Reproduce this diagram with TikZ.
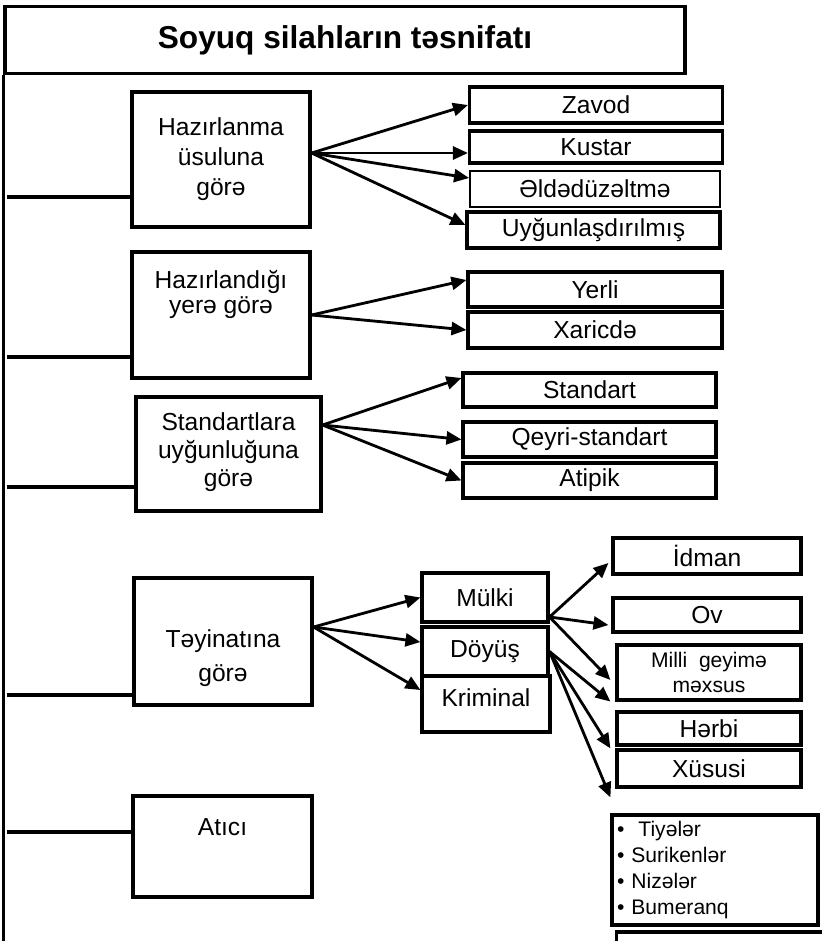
\documentclass[tikz,border=0pt]{standalone}
\usepackage{fontspec}
\setmainfont{Liberation Sans}
\usepackage{tikz}
\usetikzlibrary{arrows.meta, positioning, calc}

\begin{document}
\begin{tikzpicture}[
    x=0.02cm, y=-0.02cm,
    cat/.style={rectangle, draw, line width=1.8pt, inner sep=0pt, align=center, minimum width=3.56cm, font=\fontsize{14}{17}\selectfont},
    leaf/.style={rectangle, draw, line width=1.8pt, inner sep=0pt, align=center, minimum width=5.06cm, minimum height=0.7cm, font=\fontsize{14}{17}\selectfont},
    link/.style={line width=1.8pt},
    arr/.style={line width=1.6pt, -{Triangle[length=0.3cm, width=0.26cm]}}
]
\useasboundingbox (0,0) rectangle (822,941);
\clip (0,0) rectangle (822,941);

% Title
\node[rectangle, draw, line width=1.8pt, minimum width=13.6cm, minimum height=1.34cm, font=\fontsize{18}{22}\selectfont\bfseries] (title) at (345,40) {Soyuq silahların təsnifatı};
\coordinate (spine) at (7,960);

% Categories
\node[cat, minimum height=2.7cm] (hazir) at (221,159.5) {Hazırlanma\\üsuluna\\görə};
\node[cat, minimum height=2.52cm] (hazyer) at (221,315) {Hazırlandığı\\[-3pt]yerə görə\\[9pt]\mbox{}};
\node[cat, minimum width=3.7cm, minimum height=2.28cm] (stand) at (228.5,454) {Standartlara\\[-1pt]uyğunluğuna\\[-1pt]görə\\[-12pt]\mbox{}};
\node[cat, minimum height=2.54cm] (teyin) at (223,641.5) {\strut\\Təyinatına\\[2pt]görə};
\node[cat, minimum width=3.58cm, minimum height=2.02cm] (atici) at (222.5,846.5) {Atıcı\\[5pt]\mbox{}};

% By manufacturing method
\node[leaf, minimum height=0.72cm] (zavod) at (596,105) {Zavod};
\node[leaf, minimum height=0.64cm] (kustar) at (596,147) {Kustar};
\node[leaf, line width=1.1pt, minimum width=5cm, minimum height=0.72cm] (elde) at (595,189) {Əldədüzəltmə};
\node[leaf, minimum height=0.72cm] (uyg) at (593.5,230) {Uyğunlaşdırılmış};

% By place
\node[leaf, minimum width=5.08cm] (yerli) at (595,289.5) {Yerli};
\node[leaf, minimum width=5.08cm, minimum height=0.72cm] (xaric) at (595,330) {Xaricdə};

% By standards
\node[leaf, minimum height=0.68cm] (standart) at (589.5,390) {Standart};
\node[leaf] (qeyri) at (589.5,439.5) {Qeyri-standart};
\node[leaf] (atipik) at (589.5,480.5) {Atipik};

% By purpose
\node[cat, minimum width=2.52cm, minimum height=0.98cm] (mulki) at (485,597.5) {Mülki};
\node[cat, minimum width=2.52cm, minimum height=0.98cm] (doyus) at (485,651.5) {Döyüş};
\node[cat, minimum width=2.56cm, minimum height=1.12cm, text depth=0.25cm] (krim) at (486,704) {Kriminal};

\node[leaf, minimum width=3.76cm, minimum height=0.72cm] (idman) at (707,556) {İdman};
\node[leaf, minimum width=3.76cm, minimum height=0.68cm] (ov) at (707,615) {Ov};
\node[leaf, minimum width=3.68cm, minimum height=1.1cm, font=\fontsize{12}{14}\selectfont] (milli) at (709,672.5) {Milli~ geyimə\\məxsus};
\node[leaf, minimum width=3.68cm, minimum height=0.66cm] (herbi) at (709,728.5) {Hərbi};
\node[leaf, minimum width=3.68cm, minimum height=0.74cm] (xususi) at (709,768.5) {Xüsusi};

% Lists
\node[rectangle, draw, line width=1.8pt, inner xsep=0.1cm, inner ysep=0pt, text width=3.92cm, minimum height=2.2cm, align=left, font=\fontsize{12}{14.7}\selectfont] (list) at (715,870) {\textbullet\ \ Tiyələr\\\textbullet\ Surikenlər\\\textbullet\ Nizələr\\\textbullet\ Bumeranq};
\node[rectangle, draw, line width=1.8pt, minimum width=4.3cm, minimum height=1.2cm] (more) at (724,962) {};

% Spine
\draw[link] (title.south west) -- (title.south west |- spine);
\draw[link] (spine |- 0,197) -- (hazir.west |- 0,197);
\draw[link] (spine |- 0,357) -- (hazyer.west |- 0,357);
\draw[link] (spine |- 0,487) -- (stand.west |- 0,487);
\draw[link] (spine |- 0,695) -- (teyin.west |- 0,695);
\draw[link] (spine |- 0,832) -- (atici.west |- 0,832);

% Arrows
\coordinate (hz) at ([yshift=0.13cm]hazir.east);
\draw[arr] (hz) -- (zavod.west);
\draw[arr] (hz) -- (kustar.west |- hz);
\draw[arr] (hz) -- ([yshift=0.22cm]elde.west);
\draw[arr] (hz) -- ([yshift=0.1cm]uyg.west);

\draw[arr] (hazyer.east) -- ([yshift=0.19cm]yerli.west);
\draw[arr] (hazyer.east) -- (xaric.west);

\coordinate (st) at ([yshift=0.58cm]stand.east);
\draw[arr] (st) -- ([yshift=0.24cm]standart.west);
\draw[arr] (st) -- (qeyri.west);
\draw[arr] (st) -- (atipik.west);

\coordinate (ty) at ([yshift=0.29cm]teyin.east);
\draw[arr] (ty) -- (mulki.west);
\draw[arr] (ty) -- ([yshift=0.19cm]doyus.west);
\draw[arr] (ty) -- ([yshift=0.28cm]krim.west);

\coordinate (mk) at ([yshift=-0.39cm]mulki.east);
\draw[arr] (mk) -- ([xshift=-0.06cm,yshift=-0.14cm]idman.west);
\draw[arr] (mk) -- ([xshift=-0.06cm,yshift=-0.2cm]ov.west);
\draw[arr] (mk) -- ([xshift=-0.1cm,yshift=-0.15cm]milli.west);

\draw[arr] (doyus.east) -- ([xshift=-0.1cm]milli.south west);
\draw[arr] (doyus.east) -- ([xshift=-0.1cm]xususi.north west);
\draw[arr] (doyus.east) -- ([yshift=0.32cm]list.north west);
\end{tikzpicture}
\end{document}
